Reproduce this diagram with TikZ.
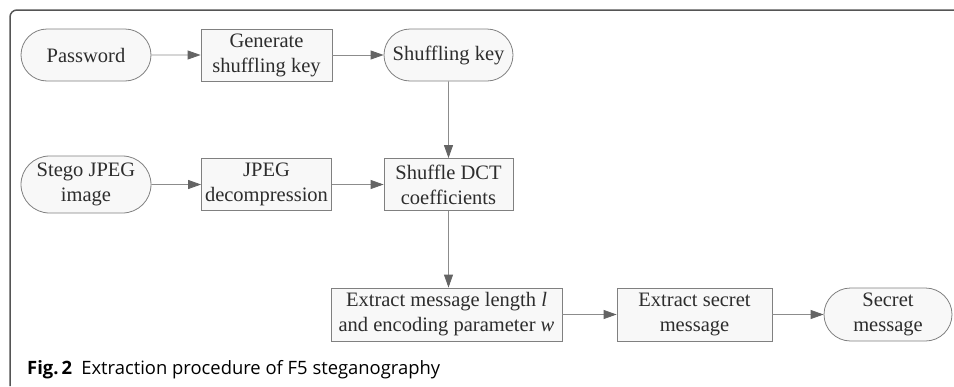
\documentclass[tikz,border=0pt]{standalone}
\usepackage{fontspec}
\setmainfont{Liberation Serif}
\newfontfamily\capfont{Open Sans}
\usetikzlibrary{arrows.meta,shapes.misc,positioning}
\definecolor{BoxGray}{RGB}{128,128,128}
\definecolor{BoxFill}{RGB}{248,248,248}
\definecolor{LineGray}{RGB}{140,140,140}
\definecolor{TipGray}{RGB}{100,100,100}
\definecolor{TextGray}{RGB}{45,45,45}
\definecolor{FrameGray}{RGB}{85,85,85}

\begin{document}
\begin{tikzpicture}[x=1pt,y=-1pt,
    every node/.style={font=\fontsize{20.5}{25}\selectfont,text=TextGray,align=center},
    procbox/.style={draw=BoxGray,fill=BoxFill,line width=0.8pt,rectangle,minimum height=52pt,inner sep=0pt},
    termbox/.style={draw=BoxGray,fill=BoxFill,line width=0.8pt,rounded rectangle,minimum height=52pt,inner sep=0pt},
    flow/.style={draw=LineGray,line width=0.8pt,-{Triangle[length=13pt,width=9pt,color=TipGray]}}]
      \useasboundingbox (0,0) rectangle (954,386);
      \draw[FrameGray,line width=1.5pt,rounded corners=7pt] (10,386)--(10,10)--(954,10);
      \node[termbox,minimum width=130pt] (pwd) at (86,55) {Password};
      \node[procbox,minimum width=131pt] (genkey) at (266.5,55) {Generate\\shuffling key};
      \node[termbox,minimum width=129pt] (shufkey) at (448.5,55) {Shuffling key};
      \node[termbox,minimum width=130pt,minimum height=57pt] (stego) at (86,184.5) {Stego JPEG\\image};
      \node[procbox,minimum width=130pt] (decomp) at (266.5,184.5) {JPEG\\decompression};
      \node[procbox,minimum width=129pt] (shufdct) at (448.5,184.5) {Shuffle DCT\\coefficients};
      \node[procbox,minimum width=231pt,minimum height=53pt] (extlen) at (446.5,314.5)
        {Extract message length \textit{l}\\and encoding parameter \textit{w}};
      \node[procbox,minimum width=155pt,minimum height=53pt] (extsec) at (694.5,314.5) {Extract secret\\message};
      \node[termbox,minimum width=128pt,minimum height=53pt] (secret) at (888,314.5) {Secret\\message};
      \draw[flow] (pwd)--(genkey);
      \draw[flow] (genkey)--(shufkey);
      \draw[flow] (shufkey)--(shufdct);
      \draw[flow] (stego)--(decomp);
      \draw[flow] (decomp)--(shufdct);
      \draw[flow] (shufdct.south)--(shufdct.south|-extlen.north);
      \draw[flow] (extlen)--(extsec);
      \draw[flow] (extsec)--(secret);
      \node[anchor=base west,font=\capfont\fontsize{18.4}{21}\selectfont,text=black,inner sep=0pt] (caption) at (27,374)
        {\textbf{Fig.\,2}\hspace{0.5em}Extraction procedure of F5 steganography};
    \end{tikzpicture}
\end{document}
